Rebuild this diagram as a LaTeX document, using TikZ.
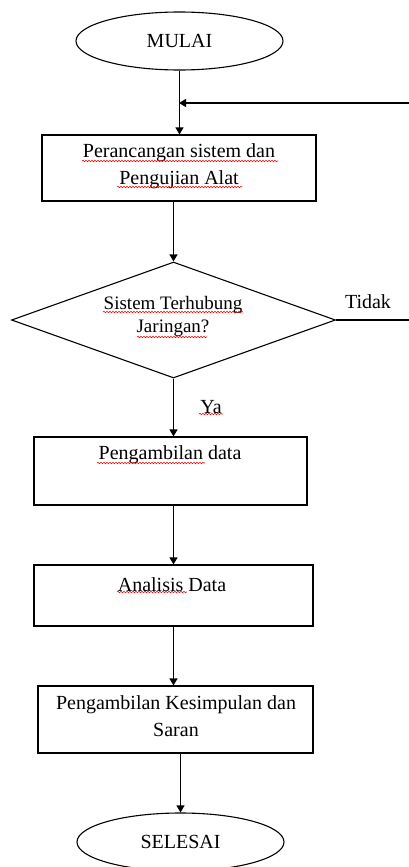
\documentclass[tikz,border=0pt]{standalone}
\usepackage{fontspec}
\setmainfont{Liberation Serif}
\usetikzlibrary{shapes.geometric,arrows.meta,decorations.pathmorphing}
\begin{document}
\begin{tikzpicture}[x=1pt,y=-1pt,
  line width=1.1pt,
  box/.style={draw, rectangle, inner sep=0pt},
  term/.style={draw, ellipse, minimum width=207pt, minimum height=58pt, inner sep=0pt, font=\fontsize{20}{24}\selectfont},
  txt/.style={font=\fontsize{20}{27}\selectfont, align=center, inner sep=0pt},
  dtxt/.style={font=\fontsize{19}{23}\selectfont, align=center, inner sep=0pt},
  arr/.style={-{Triangle[width=8pt,length=7pt]}},
  squig/.style={red, line width=0.6pt, decorate, decoration={snake, segment length=3pt, amplitude=0.7pt}}
]
\useasboundingbox (0,0) rectangle (409,867);
\begin{scope}
\clip (0,0) rectangle (409,867);
% nodes
\node[term] (mulai) at (179.5,41) {MULAI};
\node[box, minimum width=274pt, minimum height=66pt] (box1) at (179,168) {};
\node[txt] (t1) at (179,166) {Perancangan sistem dan\\Pengujian Alat};
\node[draw, diamond, aspect=2.79, minimum width=324pt, minimum height=116pt, inner sep=0pt] (dec) at (173.5,320) {};
\node[dtxt] (dt) at (173,316) {Sistem Terhubung\\Jaringan?};
\node[box, minimum width=273pt, minimum height=68pt] (box2) at (170.5,471) {};
\node[txt] (t2) at (170,455) {Pengambilan data};
\node[box, minimum width=279pt, minimum height=61pt] (box3) at (173.5,595.5) {};
\node[txt] (t3) at (172,585) {Analisis Data};
\node[box, minimum width=275pt, minimum height=67pt] (box4) at (175.5,719.5) {};
\node[txt] (t4) at (176,716) {Pengambilan Kesimpulan dan\\Saran};
\node[term] (selesai) at (180.5,842) {SELESAI};
\node[txt] (tidak) at (368,302) {Tidak};
\node[txt] (ya) at (211,407) {Ya};
% coordinates
\coordinate (fbin) at (409,103);
\coordinate (join) at (179,103);
\coordinate (tend) at (409,320);
% connectors
\draw[arr] (mulai.south) -- (mulai.south |- box1.north);
\draw[arr] (fbin) -- (join);
\draw[arr] (dec.north |- box1.south) -- (dec.north);
\draw (dec.east) -- (tend);
\draw[arr] (dec.south) -- (dec.south |- box2.north);
\draw[arr] (box3.north |- box2.south) -- (box3.north);
\draw[arr] (box3.south) -- (box3.south |- box4.north);
\draw[arr] (selesai.north |- box4.south) -- (selesai.north);
% spell-check squiggles
\draw[squig] (82,161) -- (278,161);
\draw[squig] (117,187) -- (242,187);
\draw[squig] (103,312) -- (243,312);
\draw[squig] (137,337) -- (207,337);
\draw[squig] (199,414) -- (223,414);
\draw[squig] (97,463) -- (205,463);
\draw[squig] (117,592) -- (187,592);
\end{scope}
\end{tikzpicture}
\end{document}
